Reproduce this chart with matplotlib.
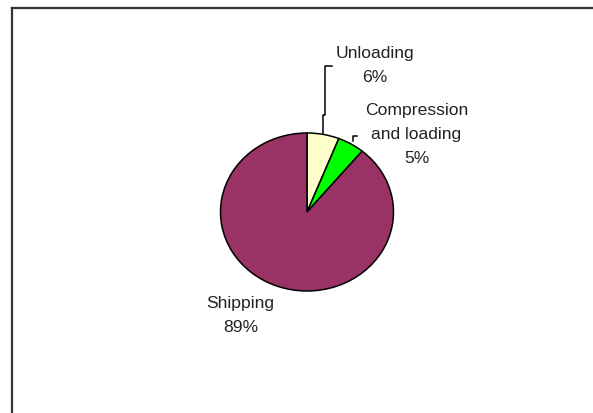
import numpy as np
import matplotlib.pyplot as plt
from matplotlib.lines import Line2D

# slice data, clockwise from 12 o'clock
labels = ['Unloading', 'Compression\nand loading', 'Shipping']
shares = [6, 5, 89]
colors = ['#FFFFCC', '#00FF00', '#993366']

W, H = 593, 413
fig = plt.figure(figsize=(W / 100, H / 100), dpi=100)
ax = fig.add_axes([0, 0, 1, 1])

# pie centre at (307, 212) px, radius ~86 px wide / 79 px tall
cx, cy, rx, ry = 307, 212, 86.5, 79
ax.pie(shares, colors=colors, startangle=90, counterclock=False,
       wedgeprops=dict(edgecolor='black', linewidth=1.1))
ax.set_aspect('auto')
ax.set_xlim(-cx / rx, (W - cx) / rx)
ax.set_ylim(-(H - cy) / ry, cy / ry)
ax.axis('off')

txt = dict(fontsize=12.6, color='#222222', ha='center', va='center',
           family=['Liberation Sans', 'DejaVu Sans'], linespacing=1.75)
ax.text(0.786, 1.854, f'{labels[0]}\n{shares[0]}%', **txt)
ax.text(1.266, 0.975, f'{labels[1]}\n{shares[1]}%', **txt)
ax.text(-0.769, -1.31, f'{labels[2]}\n{shares[2]}%', **txt)

# leader lines
ang = np.deg2rad(90 - shares[0] * 3.6 / 2)
x0, y0 = np.cos(ang), np.sin(ang)
ax.plot([x0, x0, 0.208, 0.208, 0.289], [y0, 1.228, 1.228, 1.848, 1.848],
        color='black', lw=1.1)
ax.plot([0.53, 0.53, 0.58], [0.90, 0.962, 0.962], color='black', lw=1.1)

# frame around the chart area (runs off the right and bottom edges)
fig.add_artist(Line2D([12 / W, 12 / W], [0, 1 - 8 / H], color='#333333', lw=1.6))
fig.add_artist(Line2D([12 / W, 1], [1 - 8 / H, 1 - 8 / H], color='#333333', lw=1.6))

fig.savefig('out.png', dpi=100)
